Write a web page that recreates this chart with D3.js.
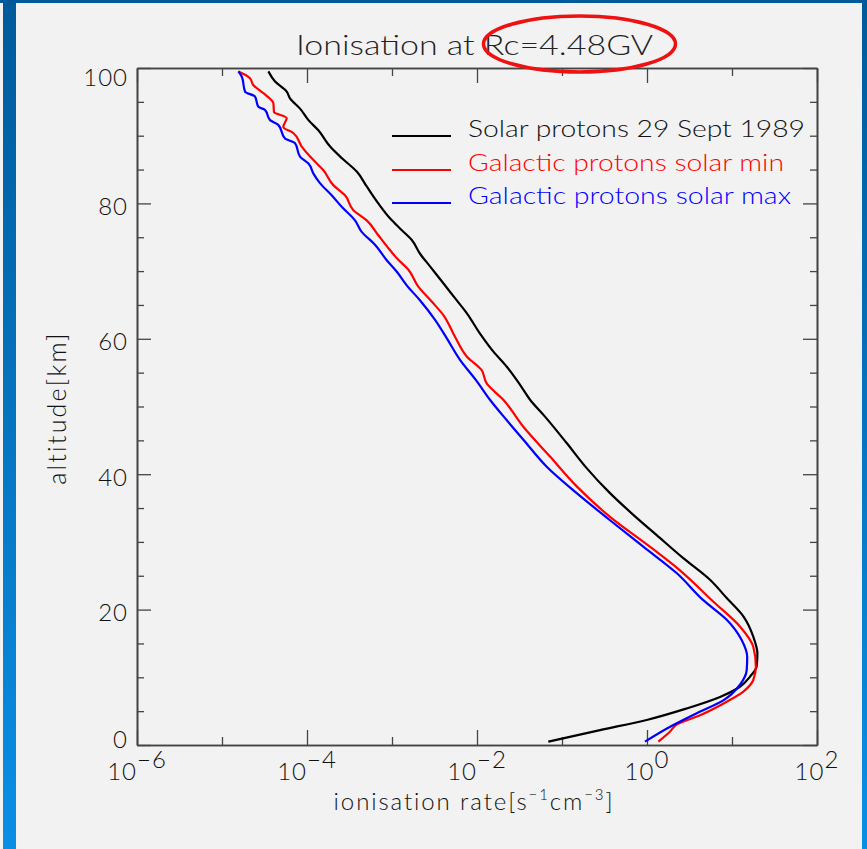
<!DOCTYPE html>
<html>
<head>
<meta charset="utf-8">
<script src="https://cdn.jsdelivr.net/npm/d3@7"></script>
<style>
  body { margin: 0; background: #f2f2f2; }
  svg text { font-family: "Lato", "DejaVu Sans", sans-serif; font-weight: 300; }
</style>
</head>
<body>
<svg id="chart" width="867" height="849"></svg>
<script>
// Ionisation rate profiles (altitude in km, rate in s^-1 cm^-3)
const solarAlt = [99.5, 98.0, 96.5, 95.5, 94.0, 92.3, 90.8, 88.4, 86.7, 84.7, 82.5, 80.0, 77.8, 76.3, 74.6, 72.6, 70.7, 68.2, 66.0, 63.8, 60.8, 58.1, 55.9, 53.2, 51.0, 48.5, 44.6, 40.9, 37.2, 34.0, 31.0, 27.6, 24.4, 21.7, 19.0, 16.0, 13.5, 11.6, 10.1, 8.6, 7.1, 5.4, 3.7, 2.2, 0.5];
const solarRate = [3.51e-5, 4.21e-5, 5.77e-5, 6.31e-5, 8.28e-5, 1.04e-4, 1.36e-4, 1.87e-4, 2.56e-4, 3.85e-4, 5.04e-4, 6.90e-4, 9.46e-4, 1.24e-3, 1.71e-3, 2.13e-3, 2.80e-3, 4.02e-3, 5.51e-3, 7.57e-3, 1.08e-2, 1.56e-2, 2.23e-2, 3.21e-2, 4.21e-2, 6.31e-2, 0.1135, 0.195, 0.367, 0.690, 1.30, 2.67, 5.51, 8.67, 13.6, 17.8, 19.9, 19.5, 16.3, 12.4, 7.23, 2.93, 0.991, 0.280, 0.069];

const galMinAlt = [99.5, 99.0, 98.5, 97.5, 96.3, 94.8, 93.5, 92.6, 91.3, 90.4, 88.4, 86.4, 84.9, 82.7, 81.2, 79.0, 77.5, 75.3, 73.4, 71.9, 70.2, 67.7, 65.5, 63.5, 60.3, 57.4, 55.4, 53.4, 51.0, 47.0, 42.6, 38.2, 33.7, 29.3, 25.8, 21.2, 17.5, 14.5, 11.6, 9.6, 7.9, 6.4, 4.4, 3.0, 2.0, 0.5];
const galMinRate = [1.56e-5, 1.87e-5, 2.13e-5, 2.33e-5, 3.06e-5, 4.02e-5, 4.09e-5, 5.77e-5, 5.26e-5, 6.90e-5, 8.67e-5, 1.19e-4, 1.56e-4, 2.04e-4, 2.80e-4, 3.51e-4, 5.04e-4, 6.90e-4, 9.04e-4, 1.14e-3, 1.56e-3, 2.04e-3, 2.93e-3, 4.02e-3, 5.51e-3, 7.57e-3, 1.13e-2, 1.30e-2, 2.04e-2, 3.51e-2, 7.23e-2, 0.149, 0.367, 1.08, 2.44, 6.0, 12.4, 17.8, 19.1, 17.8, 13.6, 8.67, 4.21, 2.23, 1.87, 1.36];

const galMaxAlt = [99.5, 98.7, 96.5, 95.8, 94.3, 93.8, 92.3, 91.6, 89.6, 88.9, 86.9, 85.9, 84.4, 83.0, 81.2, 79.5, 77.5, 75.8, 73.9, 71.6, 69.9, 67.9, 65.7, 62.8, 60.1, 56.9, 53.9, 51.0, 48.0, 45.1, 41.1, 37.2, 33.2, 29.3, 25.4, 21.4, 18.5, 15.5, 13.0, 11.1, 8.9, 6.6, 4.7, 2.7, 0.5];
const galMaxRate = [1.56e-5, 1.71e-5, 1.87e-5, 2.44e-5, 2.67e-5, 3.21e-5, 3.67e-5, 4.59e-5, 5.51e-5, 7.23e-5, 8.28e-5, 1.04e-4, 1.19e-4, 1.42e-4, 1.95e-4, 2.56e-4, 3.67e-4, 4.40e-4, 6.31e-4, 8.67e-4, 1.14e-3, 1.49e-3, 2.13e-3, 3.21e-3, 4.40e-3, 6.31e-3, 9.73e-3, 1.42e-2, 2.23e-2, 3.51e-2, 6.61e-2, 0.149, 0.367, 0.904, 2.23, 4.59, 8.67, 13.0, 15.1, 14.9, 12.4, 7.91, 3.85, 1.87, 0.946];

const seriesNames = ["Solar protons 29 Sept 1989", "Galactic protons solar min", "Galactic protons solar max"];
const seriesColors = ["#000000", "#ff0000", "#0000ff"];

const xMajorTicks = [1e-6, 1e-4, 1e-2, 1e0, 1e2];
const xMajorExp = ["\u22126", "\u22124", "\u22122", "0", "2"];
const xMinorTicks = [1e-5, 1e-3, 1e-1, 1e1];
const yMajorTicks = [0, 20, 40, 60, 80, 100];
const yMinorTicks = [5, 10, 15, 25, 30, 35, 45, 50, 55, 65, 70, 75, 85, 90, 95];

const titleText = "Ionisation at Rc=4.48GV";

const svg = d3.select("#chart");
const W = 867, H = 849;
const plot = { left: 137, right: 817, top: 68, bottom: 745 };

// Page frame
const defs = svg.append("defs");
const grad = defs.append("linearGradient").attr("id", "sideBar")
  .attr("x1", 0).attr("y1", 0).attr("x2", 0).attr("y2", 1);
grad.append("stop").attr("offset", "0%").attr("stop-color", "#005a9a");
grad.append("stop").attr("offset", "100%").attr("stop-color", "#0a8fe6");

svg.append("rect").attr("width", W).attr("height", H).attr("fill", "#f2f2f2");
svg.append("rect").attr("x", 3).attr("y", 0).attr("width", 13).attr("height", H).attr("fill", "url(#sideBar)");
svg.append("rect").attr("x", 862).attr("y", 0).attr("width", 5).attr("height", H).attr("fill", "url(#sideBar)");
svg.append("rect").attr("x", 0).attr("y", 0).attr("width", W).attr("height", 3).attr("fill", "#005a9a");

// Scales
const x = d3.scaleLog().domain([1e-6, 1e2]).range([plot.left, plot.right]);
const y = d3.scaleLinear().domain([0, 100]).range([plot.bottom, plot.top]);

const axisColor = "#444";
function styleAxis(g) {
  g.selectAll("path.domain").attr("stroke", axisColor).attr("stroke-width", 1.6);
  g.selectAll(".tick line").attr("stroke", axisColor).attr("stroke-width", 1.3);
  g.selectAll(".tick text").remove();
}

// Bottom and top axes
svg.append("g").attr("transform", `translate(0,${plot.bottom})`)
  .call(d3.axisBottom(x).tickValues(xMajorTicks).tickSize(-15).tickSizeOuter(0)).call(styleAxis);
svg.append("g").attr("transform", `translate(0,${plot.bottom})`)
  .call(d3.axisBottom(x).tickValues(xMinorTicks).tickSize(-8).tickSizeOuter(0)).call(styleAxis);
svg.append("g").attr("transform", `translate(0,${plot.top})`)
  .call(d3.axisTop(x).tickValues(xMajorTicks).tickSize(-15).tickSizeOuter(0)).call(styleAxis);
svg.append("g").attr("transform", `translate(0,${plot.top})`)
  .call(d3.axisTop(x).tickValues(xMinorTicks).tickSize(-8).tickSizeOuter(0)).call(styleAxis);

// Left and right axes
svg.append("g").attr("transform", `translate(${plot.left},0)`)
  .call(d3.axisLeft(y).tickValues(yMajorTicks).tickSize(-14).tickSizeOuter(0)).call(styleAxis);
svg.append("g").attr("transform", `translate(${plot.left},0)`)
  .call(d3.axisLeft(y).tickValues(yMinorTicks).tickSize(-7).tickSizeOuter(0)).call(styleAxis);
svg.append("g").attr("transform", `translate(${plot.right},0)`)
  .call(d3.axisRight(y).tickValues(yMajorTicks).tickSize(-14).tickSizeOuter(0)).call(styleAxis);
svg.append("g").attr("transform", `translate(${plot.right},0)`)
  .call(d3.axisRight(y).tickValues(yMinorTicks).tickSize(-7).tickSizeOuter(0)).call(styleAxis);

// Tick labels
const textColor = "#111";
yMajorTicks.forEach(v => {
  const cy = Math.min(Math.max(y(v) + 2, plot.top + 8.5), plot.bottom - 6.5);
  svg.append("text").attr("x", 128).attr("y", cy)
    .attr("text-anchor", "end").attr("dominant-baseline", "central")
    .attr("font-size", 24).attr("letter-spacing", 1).attr("fill", textColor).text(String(v));
});
xMajorTicks.forEach((v, i) => {
  const t = svg.append("text").attr("x", x(v)).attr("y", 780)
    .attr("text-anchor", "middle").attr("font-size", 24).attr("letter-spacing", 1)
    .attr("fill", textColor);
  t.append("tspan").text("10");
  t.append("tspan").attr("dy", -12).text(xMajorExp[i]);
});

// Axis titles
const xt = svg.append("text").attr("x", 474).attr("y", 810)
  .attr("text-anchor", "middle").attr("font-size", 24).attr("letter-spacing", 1.9)
  .attr("fill", textColor);
xt.append("tspan").text("ionisation rate[s");
xt.append("tspan").attr("dy", -10).attr("font-size", 15).text("\u22121");
xt.append("tspan").attr("dy", 10).text("cm");
xt.append("tspan").attr("dy", -10).attr("font-size", 15).text("\u22123");
xt.append("tspan").attr("dy", 10).text("]");

svg.append("text").attr("transform", "translate(66,408) rotate(-90)")
  .attr("text-anchor", "middle").attr("font-size", 25).attr("letter-spacing", 2.2)
  .attr("fill", textColor)
  .text("altitude[km]");

// Title
svg.append("text").attr("x", 474.5).attr("y", 55)
  .attr("text-anchor", "middle").attr("font-size", 28).attr("fill", "#222")
  .attr("textLength", 357).attr("lengthAdjust", "spacingAndGlyphs")
  .text(titleText);

// Curves
const series = [
  { alt: solarAlt, rate: solarRate },
  { alt: galMinAlt, rate: galMinRate },
  { alt: galMaxAlt, rate: galMaxRate }
];
const line = d3.line()
  .x(d => x(d[1]))
  .y(d => y(d[0]))
  .curve(d3.curveMonotoneY);

series.forEach((s, i) => {
  const pts = s.alt.map((a, k) => [a, s.rate[k]]);
  svg.append("path").datum(pts)
    .attr("d", line)
    .attr("fill", "none")
    .attr("stroke", seriesColors[i])
    .attr("stroke-width", 2.2)
    .attr("stroke-linejoin", "round");
});

// Legend
const legendY = [136, 170, 203];
const legendLen = [337, 316, 323];
seriesNames.forEach((name, i) => {
  svg.append("line").attr("x1", 392).attr("x2", 451)
    .attr("y1", legendY[i]).attr("y2", legendY[i])
    .attr("stroke", seriesColors[i]).attr("stroke-width", 2);
  svg.append("text").attr("x", 468).attr("y", legendY[i] + 1)
    .attr("font-size", 23).attr("fill", seriesColors[i] === "#000000" ? "#111" : seriesColors[i])
    .attr("textLength", legendLen[i]).attr("lengthAdjust", "spacingAndGlyphs")
    .text(name);
});

// Highlight around the rigidity value
svg.append("ellipse").attr("cx", 579.5).attr("cy", 44).attr("rx", 96).attr("ry", 28)
  .attr("fill", "none").attr("stroke", "#ee1111").attr("stroke-width", 3.5);
</script>
</body>
</html>
